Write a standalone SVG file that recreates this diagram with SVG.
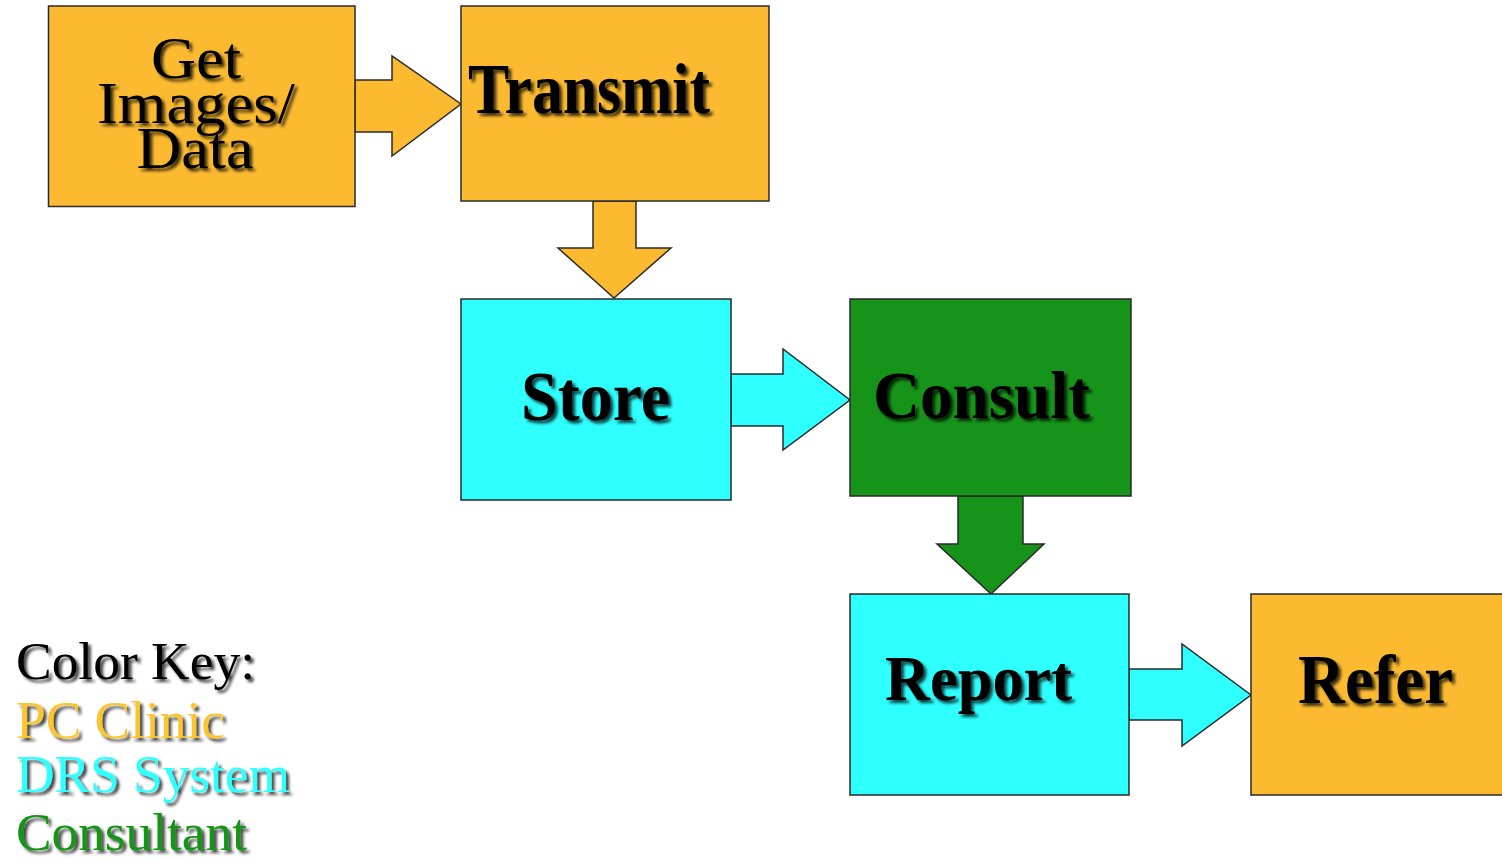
<svg xmlns="http://www.w3.org/2000/svg" width="1502" height="859" viewBox="0 0 1502 859">
<style>
.box{stroke:#2a2a2a;stroke-width:1.5}
.arr{stroke:#2a2a2a;stroke-width:1.5;stroke-linejoin:miter}
.org{fill:#FBBA30}
.cyn{fill:#2EFFFF}
.grn{fill:#169419}
.lbl{font-family:"Liberation Serif","Times New Roman",serif;fill:#000;filter:url(#sh)}
.b{font-weight:bold}
.key{font-family:"Liberation Serif","Times New Roman",serif;font-size:53px;filter:url(#sh)}
</style>
<defs>
<filter id="sh" x="-10%" y="-20%" width="130%" height="150%">
<feDropShadow dx="3" dy="3" stdDeviation="1.6" flood-color="#000" flood-opacity="0.75"/>
</filter>
</defs>
<rect width="1502" height="859" fill="#fff"/>
<g id="connectors">
<polygon class="arr org" points="355,80 392,80 392,56 461,104 392,156 392,132 355,132"/>
<polygon class="arr org" points="593,201 593,248 558,248 614,298 671,248 636,248 636,201"/>
<polygon class="arr cyn" points="731,374 783,374 783,349 850,400 783,450 783,426 731,426"/>
<polygon class="arr grn" points="958,496 958,544 937,544 991,594 1044,544 1023,544 1023,496"/>
<polygon class="arr cyn" points="1129,669 1182,669 1182,644 1251,695 1182,746 1182,720 1129,720"/>
</g>
<g id="get-images">
<rect class="box org" x="48.5" y="6" width="306.5" height="200.5"/>
<text class="lbl" font-size="60" text-anchor="middle"><tspan x="196" y="78" textLength="90" lengthAdjust="spacingAndGlyphs">Get</tspan><tspan x="196" y="123" textLength="198" lengthAdjust="spacingAndGlyphs">Images/</tspan><tspan x="195" y="168" textLength="117" lengthAdjust="spacingAndGlyphs">Data</tspan></text>
</g>
<g id="transmit">
<rect class="box org" x="461" y="6" width="308" height="195"/>
<text class="lbl b" x="468" y="113" font-size="72" textLength="242" lengthAdjust="spacingAndGlyphs">Transmit</text>
</g>
<g id="store">
<rect class="box cyn" x="461" y="299" width="270" height="201"/>
<text class="lbl b" x="521" y="420" font-size="70" textLength="149" lengthAdjust="spacingAndGlyphs">Store</text>
</g>
<g id="consult">
<rect class="box grn" x="850" y="299" width="281" height="197"/>
<text class="lbl b" x="873" y="418" font-size="68" textLength="217" lengthAdjust="spacingAndGlyphs">Consult</text>
</g>
<g id="report">
<rect class="box cyn" x="850" y="594" width="279" height="201"/>
<text class="lbl b" x="885" y="700" font-size="64" textLength="187" lengthAdjust="spacingAndGlyphs">Report</text>
</g>
<g id="refer">
<rect class="box org" x="1251" y="594" width="260" height="201"/>
<text class="lbl b" x="1298" y="703" font-size="70" textLength="155" lengthAdjust="spacingAndGlyphs">Refer</text>
</g>
<g id="color-key">
<text class="key" x="16" y="679" fill="#000" textLength="239" lengthAdjust="spacingAndGlyphs">Color Key:</text>
<text class="key" x="16" y="738" fill="#FBC531" textLength="209" lengthAdjust="spacingAndGlyphs">PC Clinic</text>
<text class="key" x="16" y="792" fill="#2EFFFF" textLength="274" lengthAdjust="spacingAndGlyphs">DRS System</text>
<text class="key" x="16" y="850" fill="#169419" textLength="231" lengthAdjust="spacingAndGlyphs">Consultant</text>
</g>
</svg>
